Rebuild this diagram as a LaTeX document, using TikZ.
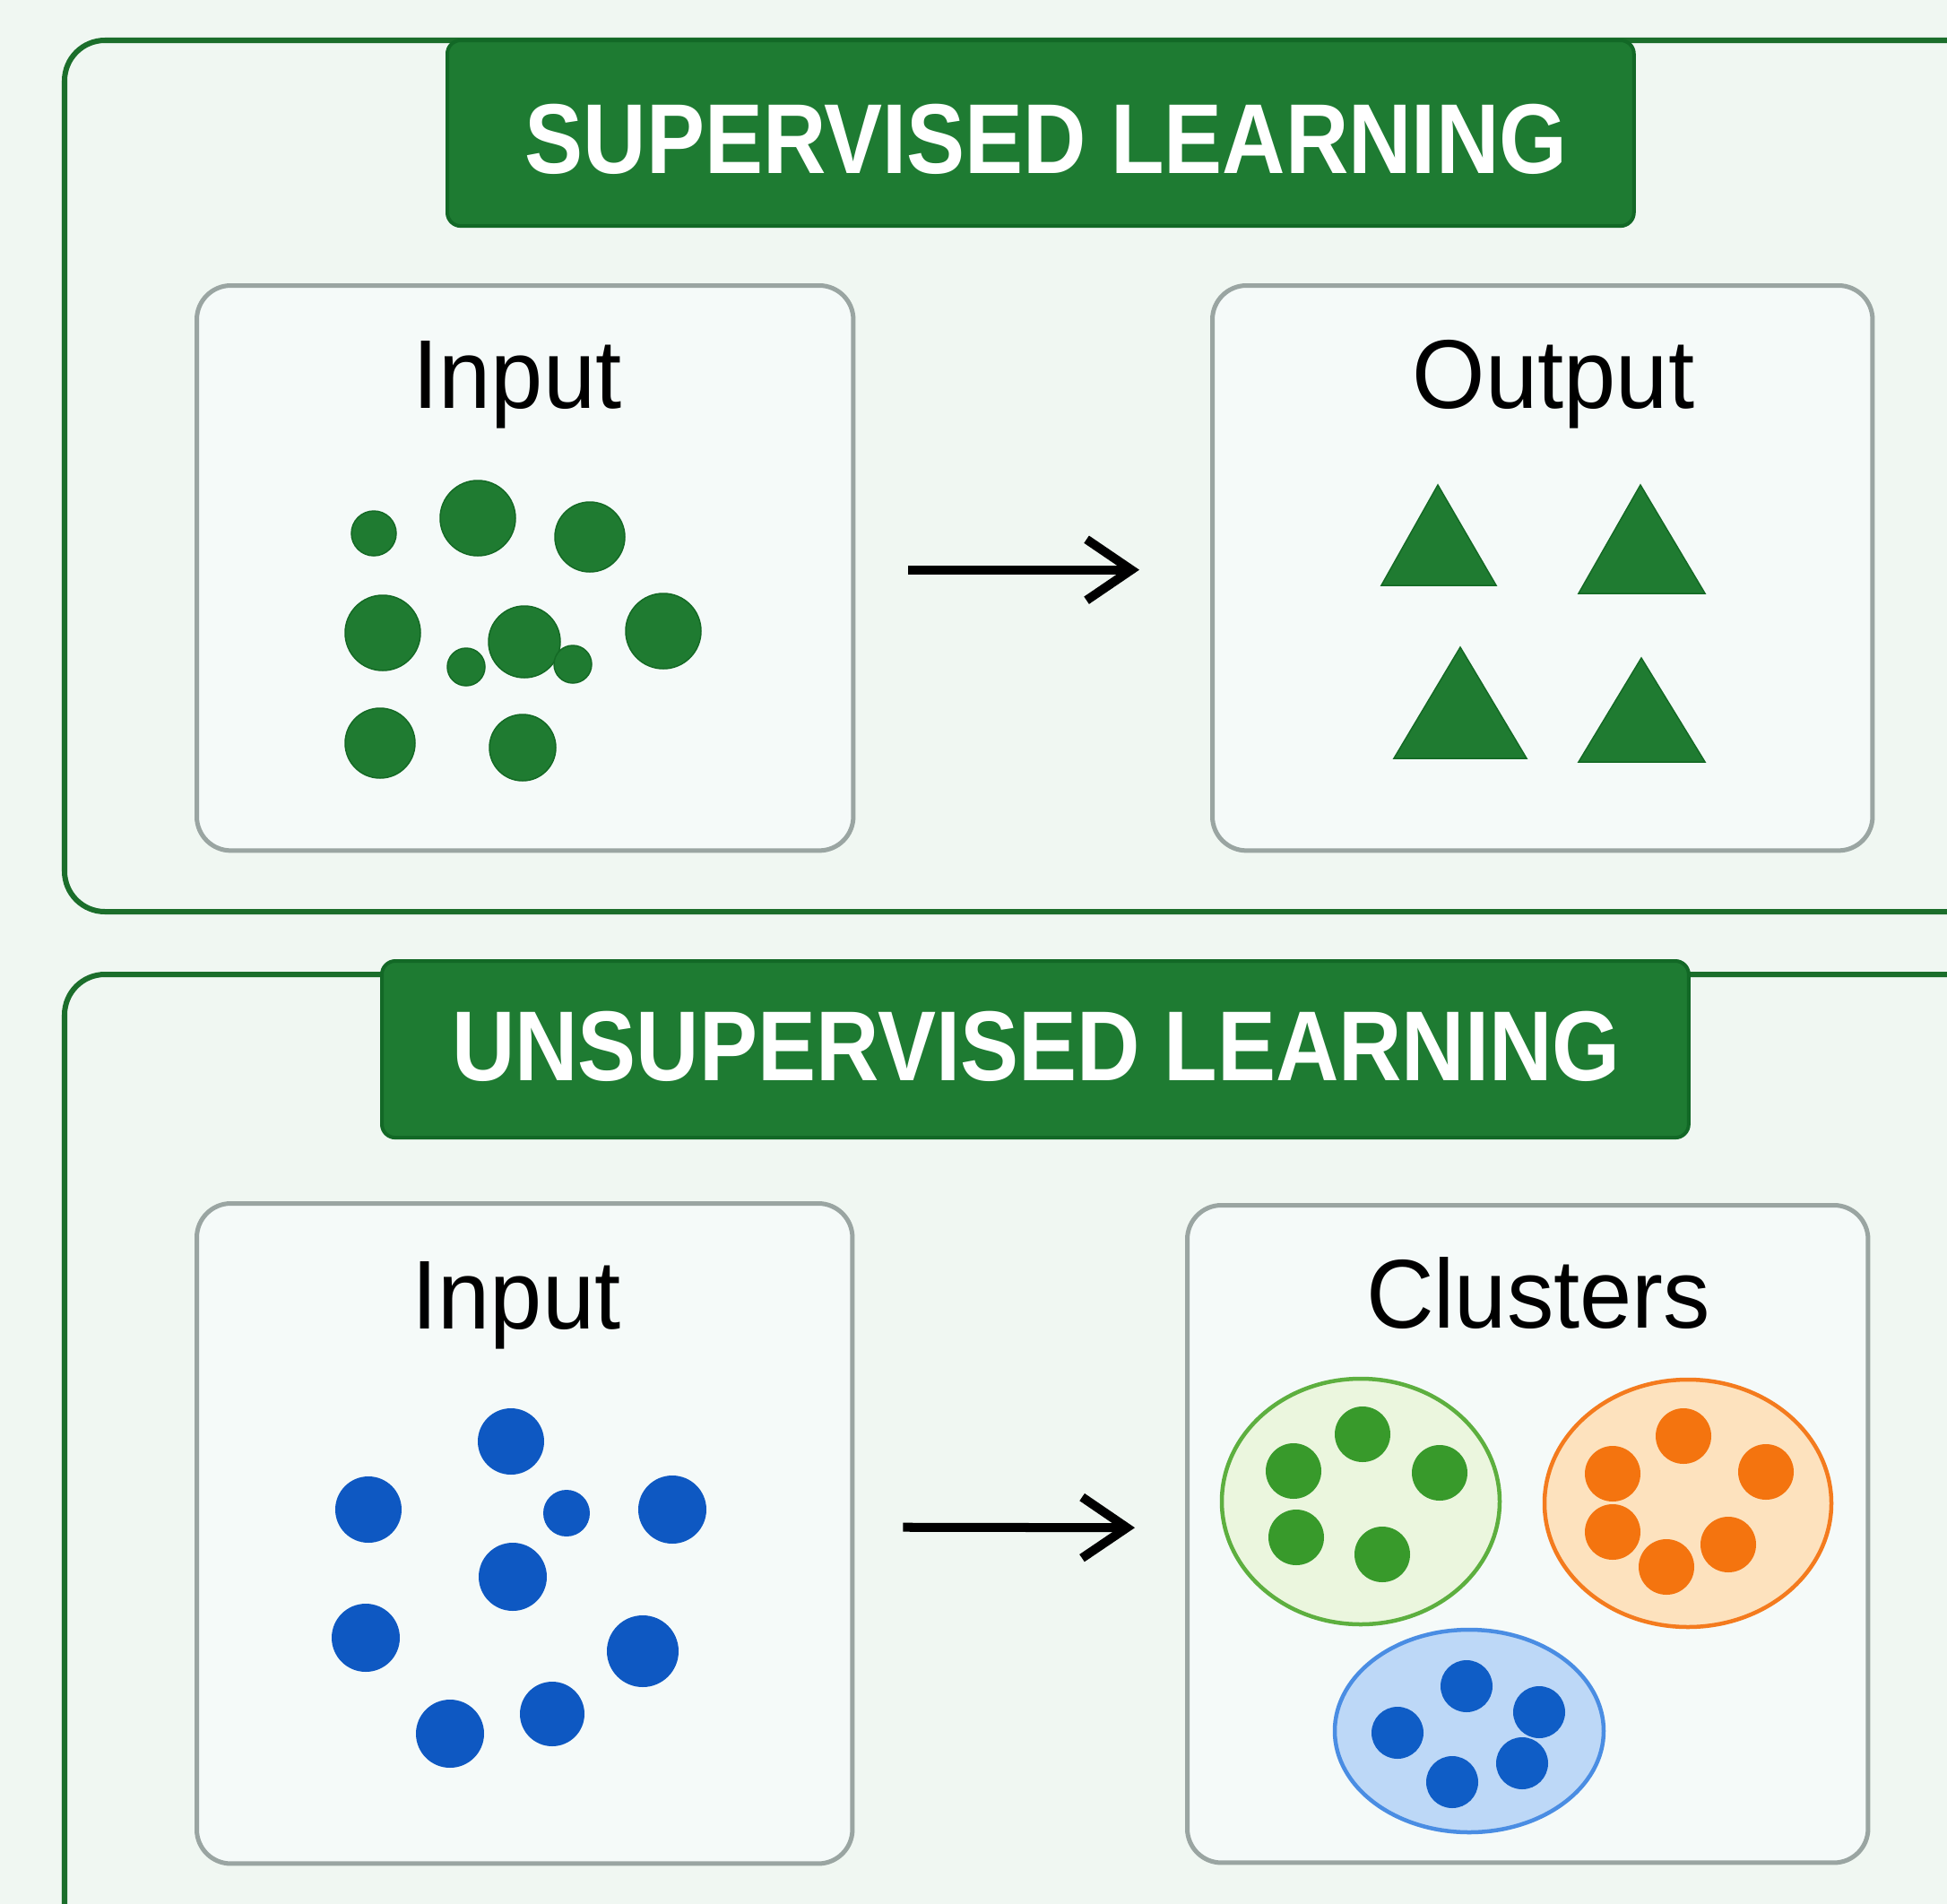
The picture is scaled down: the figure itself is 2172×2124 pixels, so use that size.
\documentclass[tikz,border=0pt]{standalone}
\usepackage{fontspec}
\setmainfont{Liberation Sans}
\usetikzlibrary{arrows.meta,calc}
\definecolor{bgc}{HTML}{F0F7F2}
\definecolor{boxfill}{HTML}{F5FAF9}
\definecolor{boxdraw}{HTML}{9AA5A2}
\definecolor{framec}{HTML}{1B6E2B}
\definecolor{bannerc}{HTML}{1E7B32}
\definecolor{bannerd}{HTML}{126826}
\definecolor{gdotc}{HTML}{1F7B31}
\definecolor{gdotd}{HTML}{146A25}
\definecolor{bdotc}{HTML}{0E58C2}
\definecolor{cgfill}{HTML}{EBF6DE}
\definecolor{cgdraw}{HTML}{5DAF3F}
\definecolor{cgdot}{HTML}{389A2B}
\definecolor{cofill}{HTML}{FDE2BE}
\definecolor{codraw}{HTML}{F47B1E}
\definecolor{codot}{HTML}{F4740F}
\definecolor{cbfill}{HTML}{BDD8F7}
\definecolor{cbdraw}{HTML}{4A8DE3}
\definecolor{cbdot}{HTML}{0F5DC6}
\begin{document}
\begin{tikzpicture}[x=0.01cm,y=-0.01cm,
  frame/.style={draw=framec,line width=0.06cm,rounded corners=0.45cm},
  banner/.style={fill=bannerc,draw=bannerd,line width=0.04cm,rounded corners=0.15cm,
    anchor=north west,inner sep=0pt},
  bannertext/.style={anchor=base,inner sep=0pt,text=white,
    font=\fontsize{31.5}{36}\selectfont\bfseries},
  panel/.style={fill=boxfill,draw=boxdraw,line width=0.05cm,rounded corners=0.38cm,
    anchor=north west,inner sep=0pt},
  label/.style={anchor=base,inner sep=0pt,text=black,
    font=\fontsize{31}{36}\selectfont},
  arr/.style={line width=0.1cm,-{Straight Barb[length=0.5cm,width=0.68cm]}},
  gdot/.style={fill=gdotc,draw=gdotd,line width=0.015cm},
  tri/.style={fill=gdotc,draw=gdotd,line width=0.015cm,line join=miter},
  bdot/.style={fill=bdotc},
]
\useasboundingbox (0,0) rectangle (2172,2124);
\begin{scope}
  \clip (0,0) rectangle (2172,2124);
  \fill[bgc] (0,0) rectangle (2172,2124);
  \draw[frame] (72,45) rectangle (2320,1017);
  \draw[frame] (72,1087) rectangle (2320,2320);
\end{scope}

% ---------- Supervised ----------
\node[banner,minimum width=13.23cm,minimum height=2.07cm] (ban1) at (497,43) {};
\node[bannertext] (t1) at (1167,193) {\scalebox{0.88}[1]{SUPERVISED LEARNING}};

\node[panel,minimum width=7.32cm,minimum height=6.30cm] (in1) at (217,316) {};
\node[panel,minimum width=7.36cm,minimum height=6.30cm] (out1) at (1350,316) {};
\node[label] (lin1) at (577,455) {\scalebox{0.96}[1]{Input}};
\node[label] (lout1) at (1733,455) {\scalebox{0.96}[1]{Output}};

\coordinate (a1s) at ($(in1.east)+(59,2)$);
\coordinate (a1e) at ($(out1.west)+(-79,2)$);
\draw[arr] (a1s) -- (a1e);

\foreach \x/\y/\r in {417/595/25, 533/578/42, 658/599/39, 427/706/42, 740/704/42,
  424/829/39, 583/834/37, 585/716/40, 520/744/21, 639/741/21}
  \filldraw[gdot] (\x,\y) circle[radius=\r];

\filldraw[tri] (1604,541) -- (1669,653) -- (1541,653) -- cycle;
\filldraw[tri] (1830,541) -- (1902,662) -- (1761,662) -- cycle;
\filldraw[tri] (1629,722) -- (1703,846) -- (1555,846) -- cycle;
\filldraw[tri] (1831,734) -- (1902,850) -- (1761,850) -- cycle;

% ---------- Unsupervised ----------
\node[banner,minimum width=14.57cm,minimum height=1.97cm] (ban2) at (424,1070) {};
\node[bannertext] (t2) at (1156,1205) {\scalebox{0.88}[1]{UNSUPERVISED LEARNING}};

\node[panel,minimum width=7.31cm,minimum height=7.36cm] (in2) at (217,1340) {};
\node[panel,minimum width=7.59cm,minimum height=7.33cm] (clu) at (1322,1342) {};
\node[label] (lin2) at (576,1482) {\scalebox{0.96}[1]{Input}};
\node[label] (lclu) at (1716,1481) {\scalebox{0.96}[1]{Clusters}};

\coordinate (a2s) at ($(in2.east)+(54,-7)$);
\coordinate (a2e) at ($(clu.west)+(-56,-7)$);
\draw[arr] (a2s) -- (a2e);

\foreach \x/\y/\r in {570/1608/37, 411/1684/37, 632/1688/26, 750/1684/38, 572/1759/38,
  408/1827/38, 717/1842/40, 502/1934/38, 616/1912/36}
  \fill[bdot] (\x,\y) circle[radius=\r];

% clusters
\filldraw[fill=cgfill,draw=cgdraw,line width=0.045cm] (1518,1675) ellipse[x radius=155,y radius=137];
\filldraw[fill=cofill,draw=codraw,line width=0.045cm] (1883,1677) ellipse[x radius=160,y radius=138];
\filldraw[fill=cbfill,draw=cbdraw,line width=0.045cm] (1639,1931) ellipse[x radius=150,y radius=113];

\foreach \x/\y in {1520/1600, 1443/1641, 1606/1643, 1446/1715, 1542/1734}
  \fill[cgdot] (\x,\y) circle[radius=31];
\foreach \x/\y in {1878/1602, 1799/1644, 1970/1642, 1799/1709, 1859/1748, 1928/1723}
  \fill[codot] (\x,\y) circle[radius=31];
\foreach \x/\y in {1636/1881, 1717/1910, 1559/1933, 1698/1967, 1620/1988}
  \fill[cbdot] (\x,\y) circle[radius=29];
\end{tikzpicture}
\end{document}
